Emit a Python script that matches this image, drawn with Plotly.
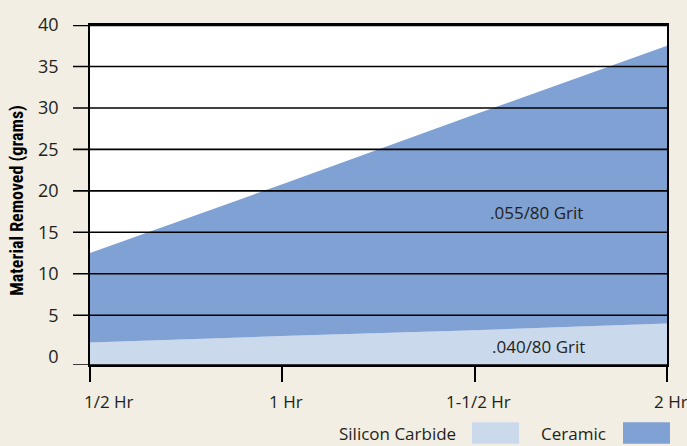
import plotly.graph_objects as go

# Grinding time (hours) and cumulative material removed (grams)
hours = [0.5, 1.0, 1.5, 2.0]
hour_labels = ["1/2 Hr", "1 Hr", "1-1/2 Hr", "2 Hr"]
silicon_carbide = [1.7, 2.5, 3.2, 4.0]
ceramic = [12.5, 20.8, 29.2, 37.5]
y_ticks = [0, 5, 10, 15, 20, 25, 30, 35, 40]
y_range = [-1, 40]

BG = "#f2eee3"
LIGHT = "#cbd9ec"
DARK = "#7fa1d3"
INK = "#231f20"
FONT = "'Open Sans', Lato, sans-serif"
FS = 17

fig = go.Figure()

# invisible baseline at the bottom of the axis so both areas fill down to it
fig.add_trace(go.Scatter(x=hours, y=[y_range[0]] * len(hours), mode="lines",
                         line=dict(width=0), hoverinfo="skip", showlegend=False))
fig.add_trace(go.Scatter(x=hours, y=silicon_carbide, mode="lines", name="Silicon Carbide",
                         line=dict(width=0, color=LIGHT), fill="tonexty",
                         fillcolor=LIGHT, showlegend=False))
fig.add_trace(go.Scatter(x=hours, y=ceramic, mode="lines", name="Ceramic",
                         line=dict(width=0, color=DARK), fill="tonexty",
                         fillcolor=DARK, showlegend=False))

plot_w = 577
tick_out = -17 / plot_w

# horizontal rules drawn over the filled areas, extending left as tick marks
for v in y_ticks:
    if v == 0:
        continue
    fig.add_shape(type="line", xref="paper", yref="y", x0=tick_out, x1=1, y0=v, y1=v,
                  line=dict(color="black", width=2.6 if v == max(y_ticks) else 1.6),
                  layer="above")
# bottom baseline with its tick extension
fig.add_shape(type="line", xref="paper", yref="y", x0=tick_out, x1=1,
              y0=y_range[0], y1=y_range[0], line=dict(color="black", width=1.6),
              layer="above")

# x tick labels: first one starts at its tick, the rest are centred
for i, (h, lab) in enumerate(zip(hours, hour_labels)):
    fig.add_annotation(x=h, y=0, xref="x", yref="paper", yshift=-36, text=lab,
                       showarrow=False, xanchor="left" if i == 0 else "center",
                       xshift=-8 if i == 0 else 4, yanchor="middle",
                       font=dict(family=FONT, size=FS, color=INK))

# series labels inside the areas
fig.add_annotation(x=1.662, y=17.4, text=".055/80 Grit", showarrow=False,
                   font=dict(family=FONT, size=FS, color=INK))
fig.add_annotation(x=1.665, y=1.2, text=".040/80 Grit", showarrow=False,
                   font=dict(family=FONT, size=FS, color=INK))

# y axis title
fig.add_annotation(x=(17 - 90) / plot_w, y=0.483, xref="paper", yref="paper",
                   xanchor="center", yanchor="middle",
                   text="<b>Material Removed (grams)</b>", textangle=-90, showarrow=False,
                   font=dict(family="'Liberation Sans Narrow', 'Roboto Condensed', 'Liberation Sans', sans-serif",
                             size=18, color="black"))

# legend: label text followed by its colour swatch
legend_items = [("Silicon Carbide", LIGHT, 458, 472, 519), ("Ceramic", DARK, 608, 623, 670)]
for name, col, text_right, sw0, sw1 in legend_items:
    fig.add_annotation(x=(text_right - 90) / plot_w, y=(365 - 435) / 350, xref="paper",
                       yref="paper", text=name, showarrow=False, xanchor="right",
                       yanchor="middle", font=dict(family=FONT, size=FS, color=INK))
    fig.add_shape(type="rect", xref="paper", yref="paper",
                  x0=(sw0 - 90) / plot_w, x1=(sw1 - 90) / plot_w,
                  y0=(365 - 446) / 350, y1=(365 - 424) / 350,
                  fillcolor=col, line=dict(width=0))

fig.update_layout(
    width=687, height=446,
    margin=dict(l=90, r=20, t=15, b=81),
    paper_bgcolor=BG, plot_bgcolor="white",
    font=dict(family=FONT, color=INK),
    xaxis=dict(range=[hours[0], hours[-1]], tickvals=hours, showticklabels=False,
               ticks="outside", ticklen=15, tickwidth=1.6, tickcolor="black",
               showline=True, linecolor="black", linewidth=1.6, mirror=True,
               showgrid=False, zeroline=False, layer="above traces"),
    yaxis=dict(range=y_range, tickvals=y_ticks, ticks="", ticklabelstandoff=26,
               tickfont=dict(family=FONT, size=18, color=INK),
               showline=True, linecolor="black", linewidth=1.6, mirror=True,
               showgrid=False, zeroline=False, layer="above traces"),
)

fig.write_html("out.html")
